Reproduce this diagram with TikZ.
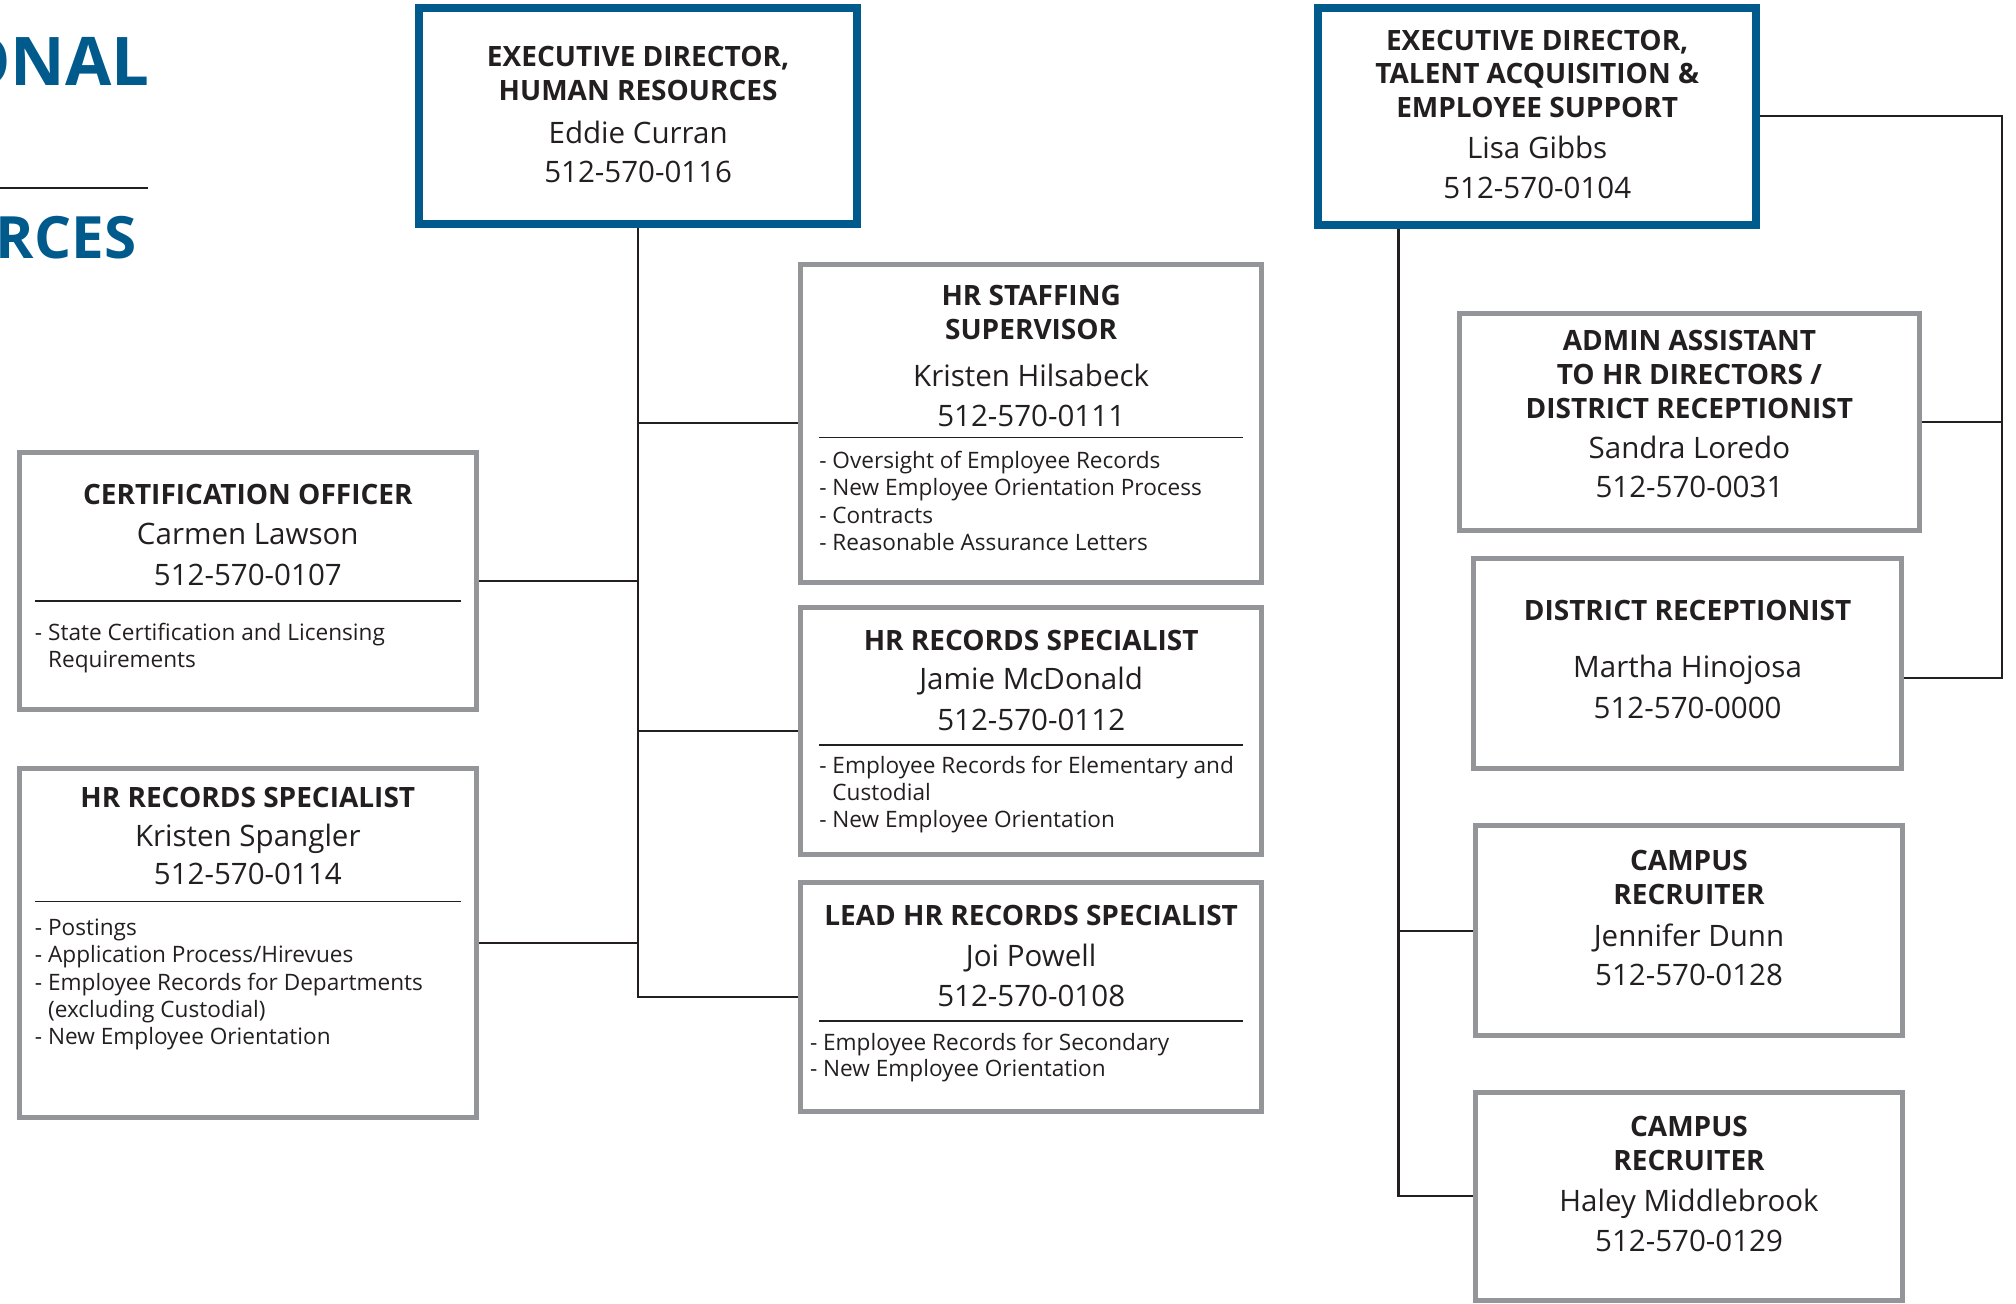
\documentclass[tikz,border=0pt]{standalone}
\usepackage{fontspec}
\setmainfont{Open Sans}
\usetikzlibrary{backgrounds}
\definecolor{hrblue}{RGB}{0,90,140}
\definecolor{cardgray}{RGB}{147,149,152}
\definecolor{inkdark}{RGB}{35,31,32}
\newlength{\cardpx}
\setlength{\cardpx}{0.1mm}
\newcommand{\cardrow}[2]{\par\nointerlineskip\vskip#1\cardpx\relax\hbox to\linewidth{\hfil\smash{#2}\hfil}}
\newcommand{\cardtitle}[2]{\cardrow{#1}{\fontsize{7.97pt}{9.7pt}\selectfont\bfseries #2}}
\newcommand{\cardname}[2]{\cardrow{#1}{\fontsize{8.4pt}{11.4pt}\selectfont #2}}
\newcommand{\carditem}[3]{\par\nointerlineskip\vskip#1\cardpx\relax\hbox to\linewidth{\hskip#2\cardpx\relax\smash{\fontsize{6.43pt}{7.7pt}\selectfont #3}\hfil}}
\newcommand{\cardrule}[2]{\par\nointerlineskip\vskip#1\cardpx\relax\hbox to\linewidth{\hskip#2\cardpx\relax\smash{\rule{\dimexpr\linewidth-#2\cardpx-#2\cardpx\relax}{0.4pt}}\hfil}}
\newcommand{\orgcard}[6] {\node at (#1) (#2) [#3] {\parbox[c][#5\cardpx][t]{#4\cardpx}{#6}};}
\tikzset{
  card/.style={anchor=north west, inner sep=0pt, outer sep=0pt, text=inkdark},
  bluecard/.style={card, draw=hrblue, line width=0.8mm},
  graycard/.style={card, draw=cardgray, line width=0.5mm},
  link/.style={draw=inkdark, line width=0.22mm},
  titlerule/.style={draw=inkdark, line width=0.25mm},
  headword/.style={anchor=base east, inner sep=0pt, text=hrblue}
}
\begin{document}
\begin{tikzpicture}[x=0.1mm, y=-0.1mm]
\useasboundingbox (0,0) rectangle (2016,1303);

% page heading, cut at the left edge
\node at (150,85) (orgword) [headword, font=\fontsize{19.1pt}{20pt}\selectfont\bfseries] {ONAL};
\node at (137,258) (hrword) [headword, font=\fontsize{16.6pt}{18pt}\selectfont\bfseries] {RCES};
\draw [titlerule] (0,188) -- (148,188);

% human resources side
\orgcard {419.3,7.5} {exechr} {bluecard} {437.7} {216.5} {%
  \cardtitle{59.2}{EXECUTIVE DIRECTOR,}\cardtitle{33.3}{HUMAN RESOURCES}%
  \cardname{43.3}{Eddie Curran}\cardname{39.4}{512-570-0116}}
\orgcard {800.8,264} {staffing} {graycard} {460.7} {318.5} {%
  \cardtitle{41}{HR STAFFING}\cardtitle{34.3}{SUPERVISOR}%
  \cardname{46.7}{Kristen Hilsabeck}\cardname{40}{512-570-0111}%
  \cardrule{12.3}{18.5}%
  \carditem{30}{18.5}{- Oversight of Employee Records}%
  \carditem{27.4}{18.5}{- New Employee Orientation Process}%
  \carditem{27.6}{18.5}{- Contracts}%
  \carditem{26.7}{18.5}{- Reasonable Assurance Letters}}
\orgcard {800.8,607.5} {records} {graycard} {460.7} {246.7} {%
  \cardtitle{42.5}{HR RECORDS SPECIALIST}%
  \cardname{39.3}{Jamie McDonald}\cardname{41.4}{512-570-0112}%
  \cardrule{15}{18.5}%
  \carditem{27.6}{18.5}{- Employee Records for Elementary and}%
  \carditem{27.4}{18.5}{\phantom{- }Custodial}%
  \carditem{26.6}{18.5}{- New Employee Orientation}}
\orgcard {800.8,882.5} {lead} {graycard} {460.7} {228.5} {%
  \cardtitle{42.5}{LEAD HR RECORDS SPECIALIST}%
  \cardname{41}{Joi Powell}\cardname{40.7}{512-570-0108}%
  \cardrule{15}{18.5}%
  \carditem{28.3}{9.2}{- Employee Records for Secondary}%
  \carditem{26.7}{9.2}{- New Employee Orientation}}
\orgcard {19.6,452} {cert} {graycard} {456.4} {257.4} {%
  \cardtitle{52.7}{CERTIFICATION OFFICER}%
  \cardname{40.2}{Carmen Lawson}\cardname{40.2}{512-570-0107}%
  \cardrule{16.5}{15.4}%
  \carditem{39.3}{15.4}{- State Certification and Licensing}%
  \carditem{26.8}{15.4}{\phantom{- }Requirements}}
\orgcard {19.6,768} {spangler} {graycard} {456.4} {349.5} {%
  \cardtitle{39}{HR RECORDS SPECIALIST}%
  \cardname{39.3}{Kristen Spangler}\cardname{37.9}{512-570-0114}%
  \cardrule{17.8}{15.4}%
  \carditem{33.5}{15.4}{- Postings}%
  \carditem{26.8}{15.4}{- Application Process/Hirevues}%
  \carditem{27.7}{15.4}{- Employee Records for Departments}%
  \carditem{27.2}{15.4}{\phantom{- }(excluding Custodial)}%
  \carditem{27.7}{15.4}{- New Employee Orientation}}

% talent acquisition side
\orgcard {1318.2,7.5} {talent} {bluecard} {438} {217.2} {%
  \cardtitle{43.2}{EXECUTIVE DIRECTOR,}\cardtitle{32.6}{TALENT ACQUISITION \&}%
  \cardtitle{34}{EMPLOYEE SUPPORT}%
  \cardname{41}{Lisa Gibbs}\cardname{40}{512-570-0104}}
\orgcard {1459,313} {admin} {graycard} {460.8} {217.8} {%
  \cardtitle{37}{ADMIN ASSISTANT}\cardtitle{34}{TO HR DIRECTORS /}%
  \cardtitle{34.3}{DISTRICT RECEPTIONIST}%
  \cardname{40}{Sandra Loredo}\cardname{39}{512-570-0031}}
\orgcard {1473.5,558.2} {district} {graycard} {428.2} {210.3} {%
  \cardtitle{62.5}{DISTRICT RECEPTIONIST}%
  \cardname{57}{Martha Hinojosa}\cardname{40.6}{512-570-0000}}
\orgcard {1475.3,825.8} {campus1} {graycard} {427.4} {210} {%
  \cardtitle{44.2}{CAMPUS}\cardtitle{34}{RECRUITER}%
  \cardname{42}{Jennifer Dunn}\cardname{39}{512-570-0128}}
\orgcard {1475.3,1092.5} {campus2} {graycard} {427.4} {207.5} {%
  \cardtitle{43.5}{CAMPUS}\cardtitle{34.7}{RECRUITER}%
  \cardname{41}{Haley Middlebrook}\cardname{40}{512-570-0129}}

\coordinate (talentfoot) at (1398.5,224.7);
\coordinate (bracketfoot) at (2002.3,677.7);

\begin{scope}[on background layer]
\draw [link] (exechr.south) |- (staffing.west);
\draw [link] (exechr.south) |- (records.west);
\draw [link] (exechr.south) |- (lead.west);
\draw [link] (exechr.south) |- (cert.east);
\draw [link] (exechr.south) |- (spangler.east);
\draw [link] (talentfoot) |- (campus1.west);
\draw [link] (talentfoot) |- (campus2.west);
\draw [link] (talent.east) -| (bracketfoot) -- (district.east |- bracketfoot);
\draw [link] (admin.east) -- (admin.east -| bracketfoot);
\end{scope}

\end{tikzpicture}
\end{document}
